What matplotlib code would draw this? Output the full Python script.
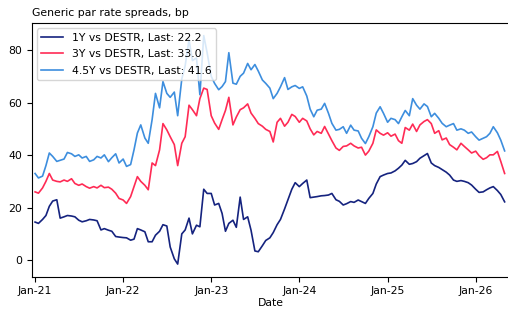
import matplotlib
matplotlib.use("Agg")
import matplotlib.pyplot as plt
import matplotlib.dates as mdates
import pandas as pd

# semi-monthly readings (1st and 15th of each month), Jan-2021 .. May-2026
dates = pd.date_range("2021-01-01", periods=129, freq="SMS")

spread_1y = [
    # 2021
    14.5, 14.0, 15.5, 17.0, 20.5, 22.5, 23.0, 16.0, 16.5, 17.0, 16.8, 16.5,
    15.2, 14.6, 15.0, 15.5, 15.3, 15.0, 11.5, 12.0, 11.4, 11.0, 9.0, 8.8,
    # 2022
    8.6, 8.5, 7.6, 8.0, 12.0, 11.5, 10.8, 7.0, 7.0, 9.5, 11.0, 13.5,
    13.0, 5.0, 0.5, -1.5, 10.0, 11.5, 16.0, 10.0, 13.3, 12.7, 27.0, 25.4,
    # 2023
    25.4, 21.0, 21.6, 17.8, 11.0, 14.0, 15.2, 12.5, 24.0, 15.5, 16.5, 11.4,
    3.5, 3.2, 5.5, 7.5, 8.5, 10.5, 13.5, 15.5, 19.5, 23.0, 27.0, 29.5,
    # 2024
    28.0, 29.2, 30.5, 23.8, 24.0, 24.2, 24.5, 24.6, 24.8, 25.4, 23.0, 22.4,
    21.0, 21.5, 22.3, 22.0, 22.9, 22.3, 21.6, 23.5, 25.4, 29.0, 31.8, 32.4,
    # 2025
    33.0, 33.2, 34.0, 35.0, 36.2, 38.0, 36.5, 36.8, 37.5, 38.8, 39.8, 40.6,
    37.0, 36.0, 35.3, 34.5, 33.5, 32.4, 30.5, 30.0, 30.3, 30.0, 29.5, 28.6,
    # 2026
    27.0, 25.8, 26.0, 26.8, 27.5, 28.0, 26.5, 25.0, 22.2,
]

spread_3y = [
    # 2021
    26.0, 25.5, 27.5, 30.0, 33.0, 30.5, 30.0, 29.8, 30.5, 30.0, 31.0, 29.2,
    28.5, 29.0, 28.0, 27.4, 28.0, 27.5, 28.5, 27.6, 27.8, 27.0, 25.5, 23.5,
    # 2022
    22.9, 21.6, 24.2, 28.0, 31.8, 30.0, 28.5, 26.8, 37.0, 36.0, 42.0, 52.0,
    49.6, 47.0, 44.0, 36.0, 44.5, 47.0, 59.0, 57.3, 55.0, 61.5, 65.5, 65.0,
    # 2023
    55.0, 52.2, 49.8, 53.5, 57.0, 62.0, 51.5, 54.5, 57.3, 58.0, 59.5, 56.0,
    54.0, 52.0, 51.0, 49.8, 49.0, 45.0, 52.5, 54.0, 51.0, 52.5, 55.5, 54.7,
    # 2024
    52.5, 54.0, 53.0, 50.0, 47.7, 49.0, 48.3, 50.9, 48.0, 45.5, 42.7, 41.8,
    43.3, 43.5, 44.5, 43.5, 42.7, 43.0, 40.0, 41.5, 44.5, 49.6, 48.3, 47.6,
    # 2025
    48.5, 47.2, 48.0, 45.5, 44.5, 50.5, 49.5, 51.8, 49.0, 51.5, 52.8, 53.5,
    52.0, 48.3, 49.3, 45.8, 46.5, 44.0, 43.0, 42.0, 44.5, 43.3, 42.0, 40.8,
    # 2026
    41.5, 39.8, 38.4, 39.0, 40.1, 40.1, 41.4, 37.6, 33.0,
]

spread_45y = [
    # 2021
    33.0, 31.3, 32.0, 36.0, 40.8, 39.5, 37.6, 38.0, 38.5, 41.0, 40.5, 39.5,
    40.1, 38.9, 39.5, 37.6, 38.2, 39.5, 38.9, 40.1, 37.5, 39.0, 40.5, 37.0,
    # 2022
    38.5, 35.7, 36.4, 42.0, 48.4, 51.5, 46.5, 44.5, 53.5, 63.5, 58.0, 68.0,
    63.5, 62.0, 64.0, 55.0, 69.0, 74.0, 84.0, 76.0, 77.0, 63.0, 85.5, 79.0,
    # 2023
    70.0, 67.3, 64.9, 66.1, 68.0, 79.0, 67.4, 67.0, 70.0, 71.2, 74.9, 72.5,
    74.5, 72.0, 68.6, 67.3, 65.5, 61.5, 63.5, 66.0, 69.5, 65.0, 66.0, 66.5,
    # 2024
    65.4, 66.0, 62.5, 57.5, 54.6, 57.1, 57.5, 59.7, 55.9, 52.1, 49.5, 49.8,
    50.8, 48.3, 51.4, 49.5, 49.2, 46.4, 44.4, 47.0, 50.8, 56.0, 58.4, 55.9,
    # 2025
    52.5, 54.0, 53.5, 52.0, 54.6, 57.0, 55.0, 61.5, 59.0, 57.5, 59.5, 58.5,
    54.6, 55.9, 54.0, 52.1, 50.8, 51.4, 52.0, 49.5, 50.0, 49.5, 48.3, 48.8,
    # 2026
    47.0, 45.7, 46.4, 47.0, 48.3, 50.8, 48.5, 45.7, 41.6,
]

labels = ["1Y vs DESTR", "3Y vs DESTR", "4.5Y vs DESTR"]
colors = ["#15237f", "#ff2b55", "#3d8ede"]

fs = 7.8
fig = plt.figure(figsize=(5.08, 3.13), dpi=100)
ax = fig.add_axes([0.0624, 0.116, 0.94, 0.8105])

for vals, lab, col in zip([spread_1y, spread_3y, spread_45y], labels, colors):
    ax.plot(dates, vals, color=col, lw=1.2,
            label="%s, Last: %.1f" % (lab, vals[-1]))

ax.set_xlim(pd.Timestamp("2020-12-18"), pd.Timestamp("2026-05-20"))
ax.set_ylim(-6.3, 90.3)
ax.set_yticks([0, 20, 40, 60, 80])
ax.xaxis.set_major_locator(mdates.YearLocator())
ax.xaxis.set_major_formatter(mdates.DateFormatter("%b-%y"))
ax.tick_params(labelsize=fs)
ax.set_xlabel("Date", fontsize=fs, labelpad=1)
ax.set_title("Generic par rate spreads, bp", loc="left", fontsize=fs, pad=5)
ax.legend(loc="upper left", fontsize=fs, labelspacing=0.6)

fig.savefig("out.png", dpi=100)
